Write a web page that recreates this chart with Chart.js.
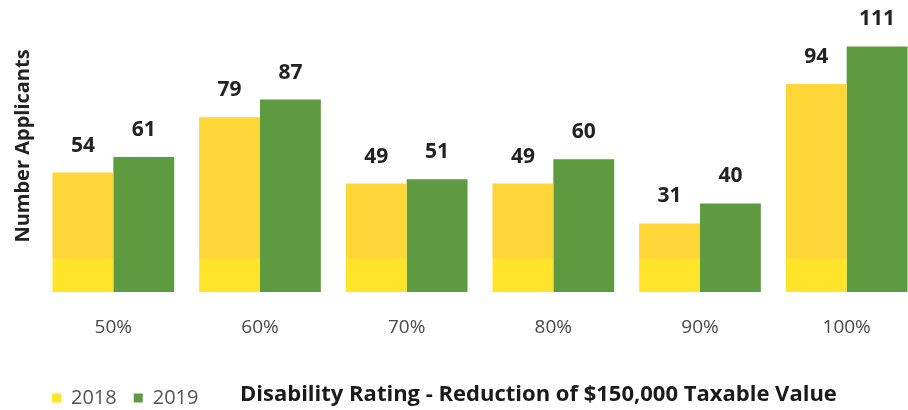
<!DOCTYPE html>
<html>
<head>
<meta charset="utf-8">
<script src="https://cdn.jsdelivr.net/npm/chart.js@4.4.1/dist/chart.umd.min.js"></script>
<style>
  html, body { margin: 0; padding: 0; background: #fff; overflow: hidden; }
  #wrap { width: 920px; height: 418px; position: relative; }
</style>
</head>
<body>
<div id="wrap"><canvas id="chart"></canvas></div>
<script>
// --- DATA ---
const categories = ['50%', '60%', '70%', '80%', '90%', '100%'];
const applicants2018 = [54, 79, 49, 49, 31, 94];
const applicants2019 = [61, 87, 51, 60, 40, 111];
const seriesNames = ['2018', '2019'];
const chartTitle = 'Disability Rating - Reduction of $150,000 Taxable Value';
const yTitle = 'Number Applicants';

const FONT = '"Open Sans", Lato, sans-serif';

// yellow bars have a brighter strip near the base
function yellowFill(context) {
    const area = context.chart.chartArea;
    if (!area) return '#FFD637';
    const g = context.chart.ctx.createLinearGradient(0, area.top, 0, area.bottom);
    g.addColorStop(0, '#FFD637');
    g.addColorStop(0.885, '#FFD637');
    g.addColorStop(0.886, '#FFE42A');
    g.addColorStop(1, '#FFE42A');
    return g;
}

// --- PLUGINS ---
const valueLabels = {
    id: 'valueLabels',
    afterDatasetsDraw(chart) {
        const ctx = chart.ctx;
        ctx.save();
        ctx.font = 'bold 21px ' + FONT;
        ctx.fillStyle = '#222';
        ctx.textAlign = 'center';
        ctx.textBaseline = 'middle';
        chart.data.datasets.forEach((ds, i) => {
            chart.getDatasetMeta(i).data.forEach((bar, j) => {
                ctx.fillText(ds.data[j], bar.x, bar.y - 27);
            });
        });
        ctx.restore();
    }
};

const bottomTitle = {
    id: 'bottomTitle',
    afterDraw(chart) {
        const ctx = chart.ctx;
        ctx.save();
        ctx.font = 'bold 22px ' + FONT;
        ctx.fillStyle = '#1a1a1a';
        ctx.textAlign = 'left';
        ctx.textBaseline = 'middle';
        ctx.fillText(chartTitle, 240, 395);
        ctx.restore();
    }
};

// --- CHART ---
const ctx = document.getElementById('chart').getContext('2d');
new Chart(ctx, {
    type: 'bar',
    data: {
        labels: categories,
        datasets: [
            { label: seriesNames[0], data: applicants2018, backgroundColor: yellowFill, borderWidth: 0 },
            { label: seriesNames[1], data: applicants2019, backgroundColor: '#5E9A40', borderWidth: 0 }
        ]
    },
    options: {
        responsive: true,
        maintainAspectRatio: false,
        animation: false,
        layout: { padding: { left: 35, right: 0, top: 0, bottom: 0 } },
        datasets: { bar: { barPercentage: 1.0, categoryPercentage: 0.83 } },
        scales: {
            x: {
                grid: { display: false },
                border: { display: false },
                ticks: { color: '#4a4a4a', font: { family: FONT, size: 19 }, padding: 16 },
                afterFit: s => { s.height = 79; }
            },
            y: {
                min: 0,
                max: 132,
                grid: { display: false },
                border: { display: false },
                ticks: { display: false },
                title: {
                    display: true, text: yTitle, color: '#222',
                    font: { family: FONT, size: 20, weight: 'bold' },
                    padding: { top: -24, bottom: 0 }
                },
                afterFit: s => { s.width = 5; }
            }
        },
        plugins: {
            legend: {
                position: 'bottom',
                align: 'start',
                labels: {
                    boxWidth: 9,
                    boxHeight: 9,
                    padding: 17,
                    color: '#555',
                    font: { family: FONT, size: 20 }
                }
            },
            tooltip: { enabled: false }
        }
    },
    plugins: [valueLabels, bottomTitle]
});
</script>
</body>
</html>
